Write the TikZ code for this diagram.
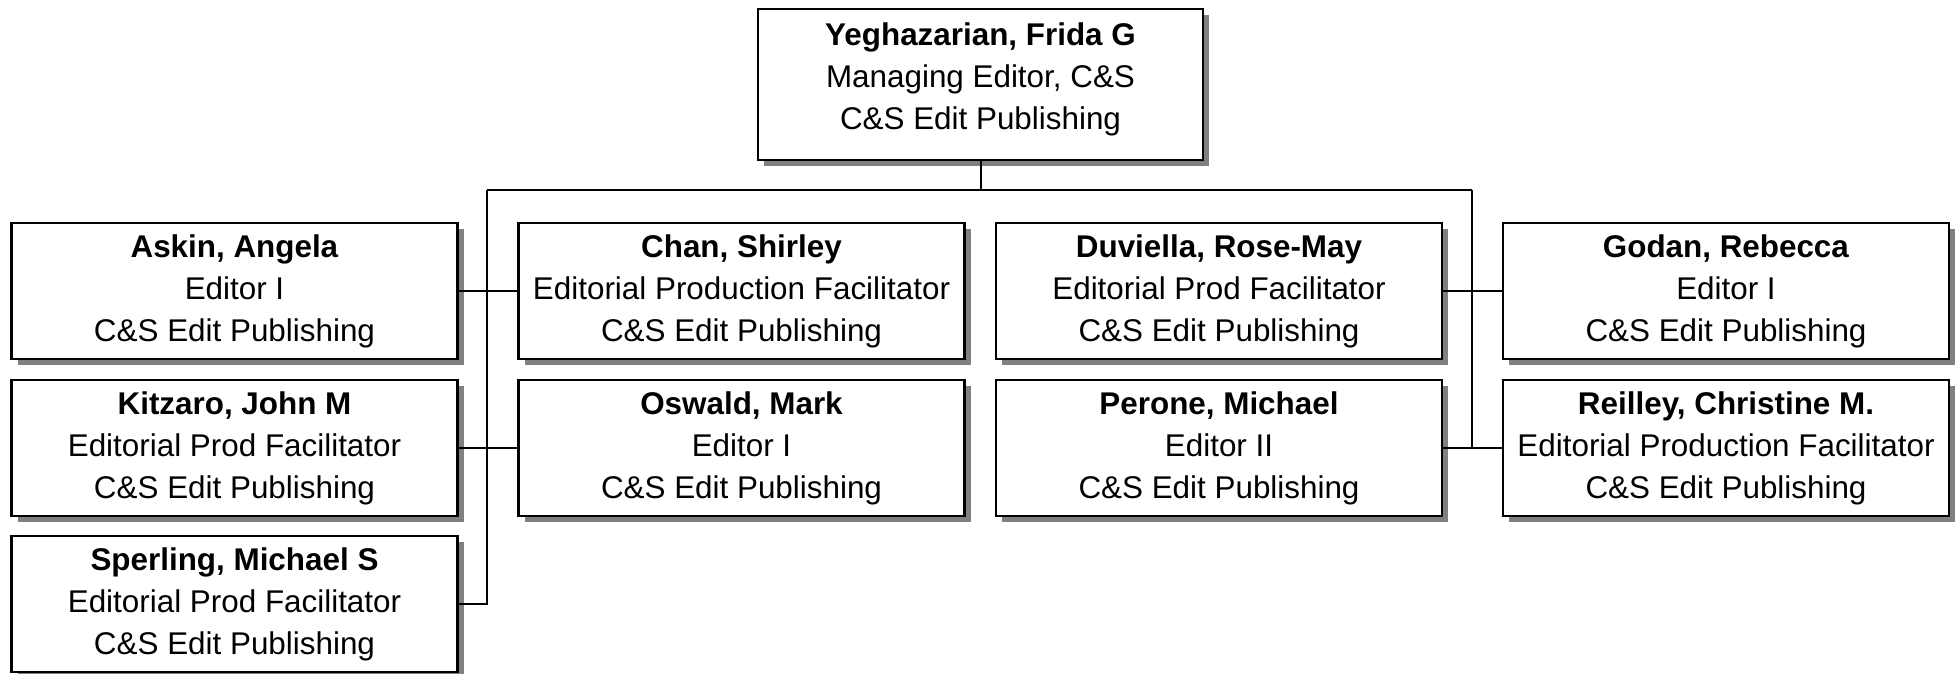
\documentclass[tikz,border=0pt]{standalone}
\usepackage{fontspec}
\setmainfont{Liberation Sans}
\usetikzlibrary{shadows,calc}
\begin{document}
\begin{tikzpicture}[x=1pt,y=-1pt,
  person/.style={draw=black, line width=2.3pt, fill=white, minimum width=446pt, minimum height=136pt,
    inner sep=0pt, align=center, font=\fontsize{31.4}{42}\selectfont,
    execute at begin node={\rule{0pt}{27.5pt}},
    drop shadow={shadow xshift=6pt, shadow yshift=-6pt, fill=black!50, opacity=1}},
  wire/.style={draw=black, line width=2pt},
  lbl/.style={align=center, font=\fontsize{31.4}{42}\selectfont, inner sep=0pt}]
\useasboundingbox (0,0) rectangle (1959,673);
% top
\node[person, minimum width=445pt, minimum height=151pt, execute at begin node={},
  label={[lbl, yshift=5pt]center:\textbf{Yeghazarian, Frida G}\\Managing Editor, C\&S\\C\&S Edit Publishing}]
  (top) at (980.5,84.5) {};
% row 1
\node[person] (askin) at (234.5,291) {\textbf{Askin, Angela}\\Editor I\\C\&S Edit Publishing};
\node[person] (chan) at (741.5,291) {\textbf{Chan, Shirley}\\Editorial Production Facilitator\\C\&S Edit Publishing};
\node[person] (duv) at (1219,291) {\textbf{Duviella, Rose-May}\\Editorial Prod Facilitator\\C\&S Edit Publishing};
\node[person] (godan) at (1726,291) {\textbf{Godan, Rebecca}\\Editor I\\C\&S Edit Publishing};
% row 2
\node[person] (kitz) at (234.5,448) {\textbf{Kitzaro, John M}\\Editorial Prod Facilitator\\C\&S Edit Publishing};
\node[person] (osw) at (741.5,448) {\textbf{Oswald, Mark}\\Editor I\\C\&S Edit Publishing};
\node[person] (per) at (1219,448) {\textbf{Perone, Michael}\\Editor II\\C\&S Edit Publishing};
\node[person] (reil) at (1726,448) {\textbf{Reilley, Christine M.}\\Editorial Production Facilitator\\C\&S Edit Publishing};
% row 3
\node[person] (sper) at (234.5,604) {\textbf{Sperling, Michael S}\\Editorial Prod Facilitator\\C\&S Edit Publishing};
% connectors
\coordinate (busL) at (487,190);
\coordinate (busR) at (1472,190);
\draw[wire] (top.south) -- (top.south |- busL);
\draw[wire] (busL) -- (busR);
\draw[wire] (busL) -- (busL |- sper.east) -- (sper.east);
\draw[wire] (busR) -- (busR |- reil.west);
\draw[wire] (askin.east) -- (chan.west);
\draw[wire] (kitz.east) -- (osw.west);
\draw[wire] (duv.east) -- (godan.west);
\draw[wire] (per.east) -- (reil.west);
\end{tikzpicture}
\end{document}
